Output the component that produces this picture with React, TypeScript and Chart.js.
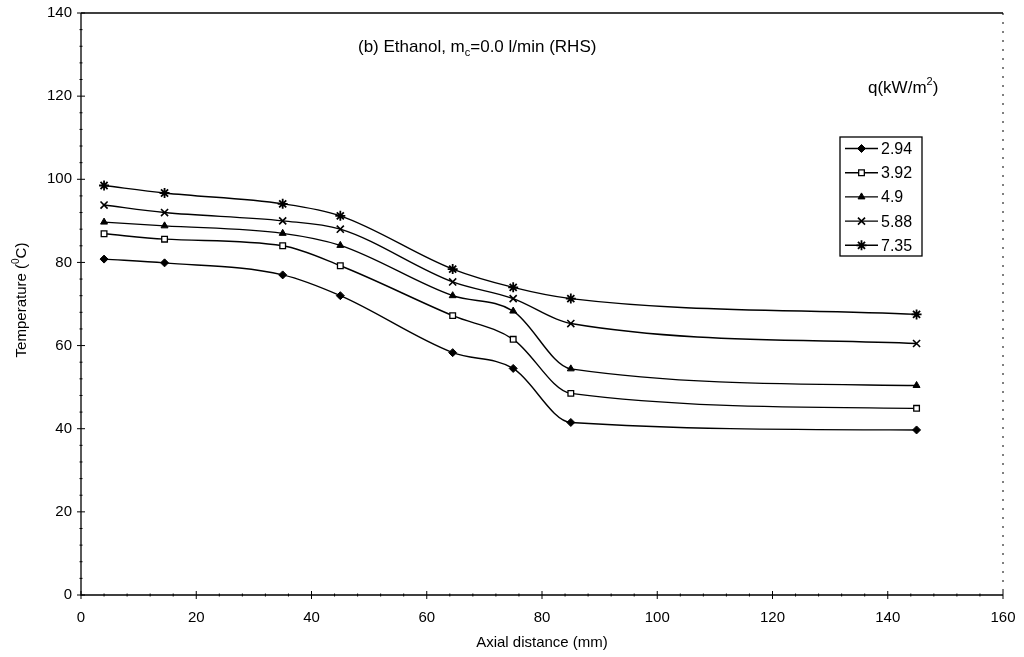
import React, { useEffect, useRef } from "react";
import { Chart, registerables } from "chart.js";
import { drawPoint } from "chart.js/helpers";

Chart.register(...registerables);

const axialDistance = [4, 14.5, 35, 45, 64.5, 75, 85, 145];
const seriesLabels = ["2.94", "3.92", "4.9", "5.88", "7.35"];
const q294 = [80.8, 79.9, 77.0, 72.0, 58.3, 54.5, 41.5, 39.7];
const q392 = [86.9, 85.6, 84.0, 79.2, 67.2, 61.5, 48.5, 44.9];
const q490 = [89.7, 88.8, 87.0, 84.1, 72.0, 68.3, 54.4, 50.4];
const q588 = [93.8, 92.0, 90.0, 88.0, 75.3, 71.3, 65.3, 60.5];
const q735 = [98.5, 96.7, 94.1, 91.2, 78.4, 74.0, 71.3, 67.5];
const seriesValues = [q294, q392, q490, q588, q735];
const xTickValues = [0, 20, 40, 60, 80, 100, 120, 140, 160];
const yTickValues = [0, 20, 40, 60, 80, 100, 120, 140];

const FONT = "'Liberation Sans', Arial, sans-serif";

const markerStyles = [
  { pointStyle: "rectRot", radius: 4, fill: "#000", border: 1 },
  { pointStyle: "rect", radius: 4, fill: "#fff", border: 1.3 },
  { pointStyle: "triangle", radius: 4, fill: "#000", border: 1 },
  { pointStyle: "crossRot", radius: 5, fill: "#000", border: 1.6 },
  { pointStyle: "star", radius: 5, fill: "#000", border: 1.8 },
];

const overlayPlugin = {
  id: "overlay",
  afterDraw(chart: any) {
    const ctx = chart.ctx as CanvasRenderingContext2D;
    const area = chart.chartArea;
    const xs = chart.scales.x;
    const ys = chart.scales.y;
    ctx.save();
    ctx.strokeStyle = "#000";
    ctx.fillStyle = "#000";

    // axes and frame
    ctx.lineWidth = 1.3;
    ctx.beginPath();
    ctx.moveTo(area.left, area.top);
    ctx.lineTo(area.left, area.bottom);
    ctx.lineTo(area.right, area.bottom);
    ctx.moveTo(area.left, area.top);
    ctx.lineTo(area.right, area.top);
    ctx.stroke();
    ctx.lineWidth = 1;
    ctx.setLineDash([2, 7]);
    ctx.beginPath();
    ctx.moveTo(area.right, area.top);
    ctx.lineTo(area.right, area.bottom);
    ctx.stroke();
    ctx.setLineDash([]);

    // tick marks
    ctx.lineWidth = 1;
    ctx.beginPath();
    for (let v = 0; v <= 160; v += 4) {
      const px = xs.getPixelForValue(v);
      const major = v % 20 === 0;
      ctx.moveTo(px, area.bottom - (major ? 4 : 1.5));
      ctx.lineTo(px, area.bottom + (major ? 4 : 1.5));
    }
    for (let v = 0; v <= 140; v += 4) {
      const py = ys.getPixelForValue(v);
      const major = v % 20 === 0;
      ctx.moveTo(area.left - (major ? 4 : 1.5), py);
      ctx.lineTo(area.left + (major ? 4 : 1.5), py);
    }
    ctx.stroke();

    // chart title
    ctx.textBaseline = "middle";
    ctx.textAlign = "left";
    ctx.font = `17px ${FONT}`;
    let tx = 358;
    const ty = 47;
    const p1 = "(b) Ethanol, m";
    ctx.fillText(p1, tx, ty);
    tx += ctx.measureText(p1).width;
    ctx.font = `11px ${FONT}`;
    ctx.fillText("c", tx, ty + 6);
    tx += ctx.measureText("c").width;
    ctx.font = `17px ${FONT}`;
    ctx.fillText("=0.0 l/min (RHS)", tx, ty);

    // legend title
    let lx = 868;
    const ly = 88;
    const l1 = "q(kW/m";
    ctx.font = `17px ${FONT}`;
    ctx.fillText(l1, lx, ly);
    lx += ctx.measureText(l1).width;
    ctx.font = `11px ${FONT}`;
    ctx.fillText("2", lx, ly - 6);
    lx += ctx.measureText("2").width;
    ctx.font = `17px ${FONT}`;
    ctx.fillText(")", lx, ly);

    // legend box
    const bx = 840, by = 137, bw = 82, bh = 119;
    ctx.fillStyle = "#fff";
    ctx.fillRect(bx, by, bw, bh);
    ctx.strokeStyle = "#000";
    ctx.lineWidth = 1.3;
    ctx.strokeRect(bx, by, bw, bh);
    chart.data.datasets.forEach((ds: any, i: number) => {
      const ey = by + 11.5 + i * 24.2;
      ctx.strokeStyle = "#000";
      ctx.lineWidth = 1.4;
      ctx.beginPath();
      ctx.moveTo(845, ey);
      ctx.lineTo(878, ey);
      ctx.stroke();
      ctx.fillStyle = ds.pointBackgroundColor;
      ctx.lineWidth = ds.pointBorderWidth;
      drawPoint(ctx, { pointStyle: ds.pointStyle, radius: ds.pointRadius, rotation: 0, borderWidth: ds.pointBorderWidth }, 861.5, ey);
      ctx.fillStyle = "#000";
      ctx.font = `16px ${FONT}`;
      ctx.textAlign = "left";
      ctx.fillText(ds.label, 881, ey + 1);
    });

    // axis titles
    ctx.fillStyle = "#000";
    ctx.font = `15px ${FONT}`;
    ctx.textAlign = "center";
    ctx.fillText("Axial distance (mm)", (area.left + area.right) / 2, 643);

    ctx.translate(22, 300);
    ctx.rotate(-Math.PI / 2);
    ctx.textAlign = "left";
    const y1 = "Temperature (";
    const y3 = "C)";
    ctx.font = `15px ${FONT}`;
    const w1 = ctx.measureText(y1).width;
    const w3 = ctx.measureText(y3).width;
    ctx.font = `10px ${FONT}`;
    const w2 = ctx.measureText("0").width;
    let yx = -(w1 + w2 + w3) / 2;
    ctx.font = `15px ${FONT}`;
    ctx.fillText(y1, yx, 0);
    yx += w1;
    ctx.font = `10px ${FONT}`;
    ctx.fillText("0", yx, -6);
    yx += w2;
    ctx.font = `15px ${FONT}`;
    ctx.fillText(y3, yx, 0);
    ctx.restore();
  },
};

export default function App() {
  const canvasRef = useRef<HTMLCanvasElement | null>(null);

  useEffect(() => {
    document.body.style.margin = "0";
    const canvas = canvasRef.current;
    if (!canvas) return;
    const datasets = seriesLabels.map((label, i) => ({
      label,
      data: axialDistance.map((x, j) => ({ x, y: seriesValues[i][j] })),
      borderColor: "#000",
      borderWidth: 1.4,
      cubicInterpolationMode: "monotone",
      pointStyle: markerStyles[i].pointStyle,
      pointRadius: markerStyles[i].radius,
      pointBackgroundColor: markerStyles[i].fill,
      pointBorderColor: "#000",
      pointBorderWidth: markerStyles[i].border,
      fill: false,
    }));
    const chart = new Chart(canvas, {
      type: "line",
      data: { datasets },
      options: {
        responsive: false,
        animation: false,
        layout: { padding: { top: 13, right: 21, left: 0, bottom: 0 } },
        plugins: {
          legend: { display: false },
          title: { display: false },
          tooltip: { enabled: false },
        },
        scales: {
          x: {
            type: "linear",
            min: 0,
            max: 160,
            afterBuildTicks: (scale: any) => {
              scale.ticks = xTickValues.map((v) => ({ value: v }));
            },
            afterFit: (scale: any) => {
              scale.height = 62;
              scale.paddingLeft = 0;
              scale.paddingRight = 0;
            },
            grid: { display: false },
            border: { display: false },
            ticks: {
              padding: 6,
              color: "#000",
              font: { family: FONT, size: 15 },
              maxRotation: 0,
            },
          },
          y: {
            type: "linear",
            min: 0,
            max: 140,
            afterBuildTicks: (scale: any) => {
              scale.ticks = yTickValues.map((v) => ({ value: v }));
            },
            afterFit: (scale: any) => {
              scale.width = 81;
              scale.paddingTop = 0;
              scale.paddingBottom = 0;
            },
            grid: { display: false },
            border: { display: false },
            ticks: {
              padding: 1,
              color: "#000",
              font: { family: FONT, size: 15 },
            },
          },
        },
      },
      plugins: [overlayPlugin],
    } as any);
    return () => chart.destroy();
  }, []);

  return (
    <div style={{ position: "fixed", left: 0, top: 0, width: 1024, height: 657, background: "#fff" }}>
      <canvas ref={canvasRef} width={1024} height={657} style={{ display: "block" }} />
    </div>
  );
}
